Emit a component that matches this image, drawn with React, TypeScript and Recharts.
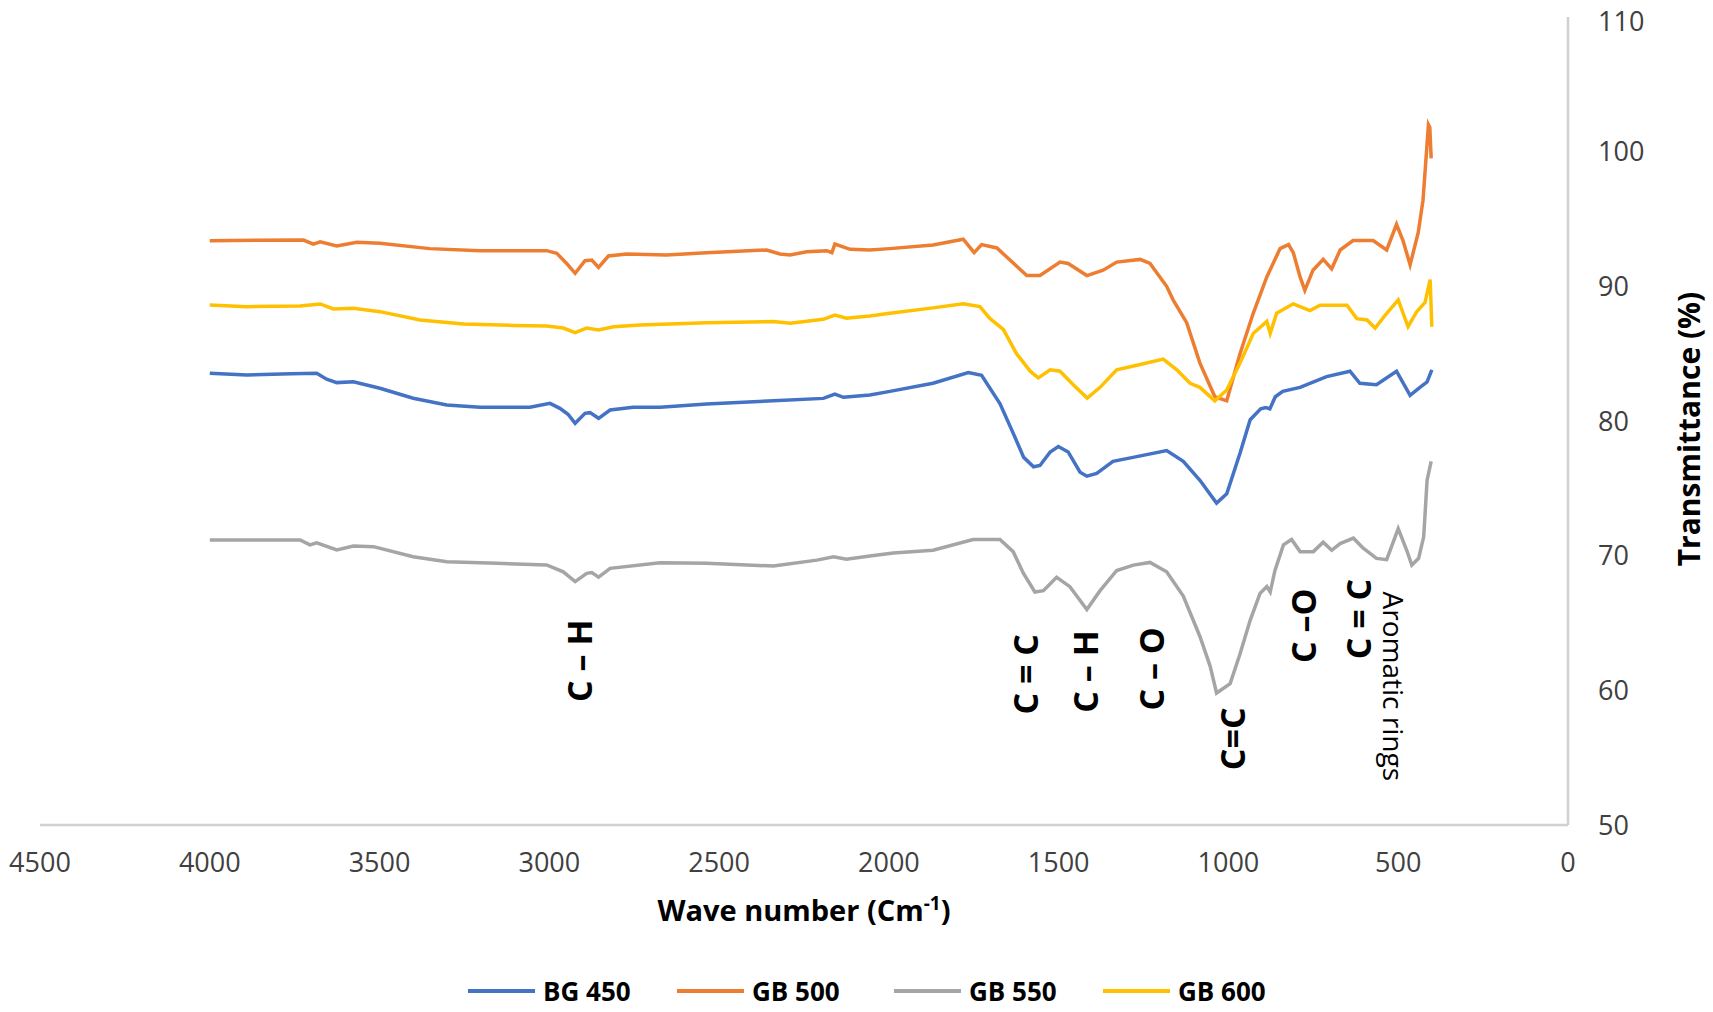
import React from 'react';
import { LineChart, Line, XAxis, YAxis, ReferenceDot } from 'recharts';

// ---------- data (wavenumber cm-1, transmittance %) ----------
const bg450Wave = [4000, 3891, 3760, 3685, 3656, 3626, 3577, 3499, 3401, 3302, 3204, 3057, 2998, 2969, 2945, 2924, 2895, 2880, 2855, 2821, 2753, 2674, 2537, 2340, 2193, 2159, 2134, 2056, 1997, 1870, 1766, 1727, 1673, 1634, 1603, 1574, 1555, 1525, 1501, 1472, 1437, 1417, 1388, 1340, 1281, 1182, 1133, 1084, 1035, 1005, 966, 936, 905, 890, 878, 862, 840, 789, 711, 642, 613, 564, 505, 465, 436, 415, 401];
const bg450T = [83.55, 83.42, 83.5, 83.54, 83.1, 82.85, 82.92, 82.43, 81.69, 81.19, 81.02, 81.02, 81.31, 80.94, 80.5, 79.83, 80.57, 80.62, 80.2, 80.82, 81.02, 81.02, 81.26, 81.5, 81.68, 82.0, 81.76, 81.93, 82.2, 82.8, 83.6, 83.4, 81.3, 79.1, 77.3, 76.6, 76.7, 77.7, 78.1, 77.7, 76.2, 75.9, 76.1, 77.0, 77.3, 77.8, 77.0, 75.6, 73.9, 74.6, 77.6, 80.1, 80.9, 81.0, 80.9, 81.8, 82.2, 82.5, 83.3, 83.7, 82.8, 82.7, 83.7, 81.9, 82.5, 82.9, 83.8];

const gb500Wave = [4000, 3724, 3695, 3675, 3626, 3567, 3499, 3352, 3204, 3008, 2978, 2949, 2924, 2895, 2875, 2855, 2826, 2772, 2655, 2537, 2360, 2321, 2291, 2242, 2183, 2168, 2159, 2114, 2056, 1997, 1870, 1781, 1749, 1727, 1682, 1594, 1555, 1496, 1472, 1417, 1369, 1329, 1260, 1231, 1182, 1163, 1123, 1084, 1040, 1005, 966, 927, 887, 848, 823, 809, 789, 775, 751, 721, 696, 671, 633, 574, 534, 505, 486, 465, 441, 427, 411, 407, 403];
const gb500T = [93.39, 93.44, 93.14, 93.3, 93.0, 93.27, 93.2, 92.8, 92.65, 92.65, 92.45, 91.7, 90.97, 91.9, 91.95, 91.4, 92.25, 92.4, 92.33, 92.5, 92.7, 92.4, 92.33, 92.57, 92.65, 92.5, 93.14, 92.75, 92.7, 92.8, 93.07, 93.5, 92.5, 93.1, 92.85, 90.8, 90.8, 91.8, 91.7, 90.8, 91.2, 91.8, 92.0, 91.7, 90.0, 89.0, 87.3, 84.3, 81.8, 81.5, 85.0, 88.0, 90.7, 92.8, 93.1, 92.5, 90.7, 89.7, 91.2, 92.0, 91.3, 92.7, 93.4, 93.4, 92.7, 94.6, 93.4, 91.6, 94.0, 96.4, 102.0, 101.8, 99.5];

const gb550Wave = [4000, 3734, 3705, 3685, 3626, 3577, 3518, 3401, 3302, 3155, 3008, 2959, 2924, 2890, 2875, 2855, 2821, 2674, 2537, 2340, 2212, 2163, 2125, 2056, 1987, 1870, 1752, 1673, 1634, 1604, 1570, 1545, 1506, 1467, 1417, 1378, 1329, 1280, 1231, 1182, 1133, 1084, 1054, 1035, 995, 966, 936, 907, 887, 877, 863, 838, 814, 789, 750, 721, 696, 671, 632, 603, 564, 534, 500, 475, 460, 440, 425, 415, 403];
const gb550T = [71.16, 71.16, 70.8, 70.96, 70.42, 70.72, 70.67, 69.92, 69.55, 69.43, 69.31, 68.8, 68.07, 68.69, 68.74, 68.4, 69.06, 69.48, 69.43, 69.23, 69.67, 69.92, 69.73, 69.98, 70.2, 70.4, 71.2, 71.2, 70.3, 68.7, 67.3, 67.4, 68.4, 67.7, 66.0, 67.4, 68.9, 69.3, 69.5, 68.8, 67.0, 64.0, 61.8, 59.8, 60.5, 62.7, 65.2, 67.2, 67.7, 67.3, 68.9, 70.8, 71.2, 70.3, 70.3, 71.0, 70.4, 70.9, 71.3, 70.55, 69.8, 69.7, 72.0, 70.4, 69.3, 69.8, 71.4, 75.6, 77.0];

const gb600Wave = [4000, 3891, 3734, 3675, 3636, 3577, 3499, 3381, 3253, 3106, 3008, 2959, 2924, 2890, 2855, 2811, 2733, 2537, 2340, 2291, 2193, 2159, 2125, 2056, 1997, 1870, 1781, 1732, 1702, 1663, 1624, 1584, 1560, 1525, 1496, 1457, 1416, 1378, 1329, 1260, 1192, 1152, 1113, 1084, 1040, 1005, 966, 927, 887, 877, 858, 809, 760, 730, 651, 622, 592, 568, 534, 500, 471, 446, 421, 406, 401];
const gb600T = [88.61, 88.49, 88.54, 88.69, 88.32, 88.37, 88.12, 87.5, 87.2, 87.1, 87.05, 86.9, 86.56, 86.9, 86.76, 87.0, 87.13, 87.3, 87.38, 87.26, 87.55, 87.87, 87.63, 87.8, 88.0, 88.4, 88.7, 88.5, 87.6, 86.8, 85.0, 83.7, 83.2, 83.8, 83.7, 82.7, 81.7, 82.5, 83.8, 84.2, 84.6, 83.8, 82.8, 82.5, 81.5, 82.3, 84.3, 86.5, 87.4, 86.5, 88.0, 88.7, 88.2, 88.6, 88.6, 87.6, 87.5, 86.9, 88.0, 89.0, 87.0, 88.1, 88.8, 90.5, 87.0];

const xTicks = [0, 500, 1000, 1500, 2000, 2500, 3000, 3500, 4000, 4500];
const yTicks = [50, 60, 70, 80, 90, 100, 110];

const seriesNames = ['BG 450', 'GB 500', 'GB 550', 'GB 600'];
const seriesColors = ['#4472C4', '#ED7D31', '#A5A5A5', '#FFC000'];

// band assignments (label, wavenumber, transmittance level of label centre)
const bandLabels = ['C – H', 'C = C', 'C – H', 'C – O', 'C=C', 'C –O', 'C = C', 'Aromatic rings'];
const bandWave = [2913, 1599, 1422, 1228, 990, 780, 618, 512];
const bandLevel = [62.2, 61.2, 61.4, 61.6, 56.4, 64.8, 65.3, 60.3];

const toPoints = (w: number[], t: number[]) => w.map((x, i) => ({ x, y: t[i] }));
const seriesData = [
  toPoints(bg450Wave, bg450T),
  toPoints(gb500Wave, gb500T),
  toPoints(gb550Wave, gb550T),
  toPoints(gb600Wave, gb600T),
];

const FONT = '"Open Sans", "Liberation Sans", sans-serif';

const makeBandLabel = (text: string) => (props: any) => {
  const vb = props.viewBox || {};
  const cx = (vb.x || 0) + (vb.width || 0) / 2;
  const cy = (vb.y || 0) + (vb.height || 0) / 2;
  const aromatic = text.length > 6;
  return (
    <text
      x={cx}
      y={cy}
      transform={`rotate(${aromatic ? 90 : -90} ${cx} ${cy})`}
      textAnchor="middle"
      dominantBaseline="central"
      fontFamily={FONT}
      fontSize={aromatic ? 28 : 34}
      fontWeight={aromatic ? 400 : 700}
      fill="#000"
    >
      {text}
    </text>
  );
};

const YTick = (props: any) => {
  const { x, y, payload } = props;
  const ty = Math.max(y, 21);
  return (
    <text x={x} y={ty} dy="0.355em" textAnchor="start" fontFamily={FONT} fontSize={27} fill="#404040">
      {payload.value}
    </text>
  );
};

const XTitle = (props: any) => {
  const vb = props.viewBox || {};
  const cx = vb.x + vb.width / 2;
  const y = vb.y + 96;
  return (
    <text x={cx} y={y} textAnchor="middle" fontFamily={FONT} fontSize={29} fontWeight={700} fill="#000">
      Wave number (Cm
      <tspan dy={-11} fontSize={19}>-1</tspan>
      <tspan dy={11}>)</tspan>
    </text>
  );
};

const YTitle = (props: any) => {
  const vb = props.viewBox || {};
  const cx = vb.x + 120;
  const cy = vb.y + vb.height / 2 + 8;
  return (
    <text
      x={cx}
      y={cy}
      transform={`rotate(-90 ${cx} ${cy})`}
      textAnchor="middle"
      dominantBaseline="central"
      fontFamily={FONT}
      fontSize={30}
      fontWeight={700}
      fill="#000"
    >
      Transmittance (%)
    </text>
  );
};

const legendLeft = [468, 677, 894, 1103];

export default function App() {
  return (
    <div style={{ position: 'absolute', left: 0, top: 0, width: 1713, height: 1012, background: '#fff', overflow: 'hidden' }}>
      <LineChart width={1713} height={1012} margin={{ top: 17, right: 45, bottom: 137, left: 40 }}>
        <XAxis
          type="number"
          dataKey="x"
          domain={[0, 4500]}
          ticks={xTicks}
          reversed
          interval={0}
          height={50}
          axisLine={{ stroke: '#D0D0D0', strokeWidth: 2.5 }}
          tickLine={false}
          tickSize={6}
          tickMargin={22}
          tick={{ fill: '#404040', fontSize: 27, fontFamily: FONT }}
          label={<XTitle />}
        />
        <YAxis
          orientation="right"
          type="number"
          domain={[50, 110]}
          ticks={yTicks}
          interval={0}
          width={100}
          axisLine={{ stroke: '#D0D0D0', strokeWidth: 2.5 }}
          tickLine={false}
          tickSize={6}
          tickMargin={24}
          tick={<YTick />}
          label={<YTitle />}
        />
        {seriesData.map((d, i) => (
          <Line
            key={seriesNames[i]}
            data={d}
            dataKey="y"
            name={seriesNames[i]}
            type="linear"
            stroke={seriesColors[i]}
            strokeWidth={3.5}
            dot={false}
            activeDot={false}
            isAnimationActive={false}
          />
        ))}
        {bandLabels.map((t, i) => (
          <ReferenceDot
            key={i}
            x={bandWave[i]}
            y={bandLevel[i]}
            r={0}
            fill="none"
            stroke="none"
            ifOverflow="visible"
            label={{ content: makeBandLabel(t) }}
          />
        ))}
      </LineChart>
      {seriesNames.map((n, i) => (
        <div
          key={n}
          style={{
            position: 'absolute',
            left: legendLeft[i],
            top: 991 - 18,
            height: 36,
            lineHeight: '36px',
            display: 'flex',
            alignItems: 'center',
            fontFamily: FONT,
            fontWeight: 700,
            fontSize: 26,
            color: '#000',
            whiteSpace: 'nowrap',
          }}
        >
          <div style={{ width: 67, height: 4, background: seriesColors[i], marginRight: 8 }} />
          <span>{n}</span>
        </div>
      ))}
    </div>
  );
}
